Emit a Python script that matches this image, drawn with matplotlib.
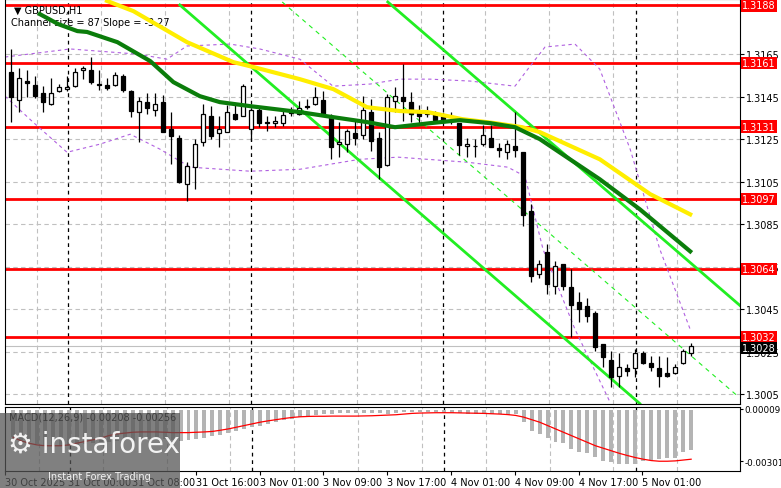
import numpy as np
import matplotlib
matplotlib.use("Agg")
from matplotlib import pyplot as plt

# candles, H1 GBPUSD
opens = [1.31566, 1.31434, 1.31524, 1.31505, 1.31467, 1.31415, 1.31477, 1.31486, 1.31500, 1.31576,
         1.31576, 1.31510, 1.31505, 1.31505, 1.31547, 1.31477, 1.31378, 1.31425, 1.31387, 1.31425,
         1.31298, 1.31255, 1.31039, 1.31119, 1.31236, 1.31359, 1.31279, 1.31284, 1.31368, 1.31359,
         1.31298, 1.31387, 1.31331, 1.31326, 1.31326, 1.31378, 1.31368, 1.31408, 1.31415, 1.31434,
         1.31359, 1.31227, 1.31227, 1.31279, 1.31269, 1.31378, 1.31255, 1.31128, 1.31430, 1.31448,
         1.31425, 1.31378, 1.31368, 1.31368, 1.31359, 1.31343, 1.31326, 1.31218, 1.31220, 1.31227,
         1.31255, 1.31208, 1.31189, 1.31218, 1.31189, 1.30912, 1.30615, 1.30718, 1.30558, 1.30662,
         1.30554, 1.30483, 1.30464, 1.30431, 1.30285, 1.30214, 1.30139, 1.30172, 1.30172, 1.30243,
         1.30196, 1.30172, 1.30153, 1.30153, 1.30196, 1.30243]
highs = [1.31675, 1.31585, 1.31576, 1.31547, 1.31500, 1.31538, 1.31510, 1.31547, 1.31585, 1.31594,
         1.31637, 1.31576, 1.31538, 1.31566, 1.31557, 1.31481, 1.31448, 1.31467, 1.31467, 1.31458,
         1.31378, 1.31269, 1.31142, 1.31251, 1.31415, 1.31406, 1.31359, 1.31411, 1.31420, 1.31510,
         1.31392, 1.31401, 1.31359, 1.31359, 1.31387, 1.31401, 1.31430, 1.31439, 1.31496, 1.31477,
         1.31368, 1.31331, 1.31298, 1.31335, 1.31453, 1.31439, 1.31284, 1.31463, 1.31496, 1.31604,
         1.31472, 1.31411, 1.31406, 1.31382, 1.31378, 1.31378, 1.31326, 1.31255, 1.31251, 1.31317,
         1.31317, 1.31232, 1.31246, 1.31378, 1.31189, 1.30945, 1.30680, 1.30756, 1.30676, 1.30662,
         1.30638, 1.30530, 1.30502, 1.30441, 1.30285, 1.30252, 1.30247, 1.30191, 1.30262, 1.30252,
         1.30229, 1.30229, 1.30224, 1.30191, 1.30266, 1.30294]
lows = [1.31331, 1.31378, 1.31448, 1.31444, 1.31378, 1.31411, 1.31472, 1.31477, 1.31496, 1.31533,
        1.31510, 1.31481, 1.31481, 1.31500, 1.31472, 1.31354, 1.31237, 1.31368, 1.31359, 1.31284,
        1.31133, 1.31043, 1.30959, 1.31015, 1.31218, 1.31251, 1.31213, 1.31284, 1.31340, 1.31359,
        1.31241, 1.31307, 1.31288, 1.31307, 1.31312, 1.31359, 1.31364, 1.31392, 1.31411, 1.31359,
        1.31156, 1.31166, 1.31189, 1.31222, 1.31251, 1.31194, 1.31062, 1.31124, 1.31378, 1.31335,
        1.31331, 1.31326, 1.31354, 1.31331, 1.31326, 1.31321, 1.31175, 1.31166, 1.31166, 1.31218,
        1.31213, 1.31166, 1.31156, 1.31166, 1.30841, 1.30577, 1.30600, 1.30521, 1.30521, 1.30540,
        1.30318, 1.30393, 1.30389, 1.30252, 1.30177, 1.30087, 1.30087, 1.30139, 1.30134, 1.30191,
        1.30158, 1.30087, 1.30130, 1.30144, 1.30191, 1.30229]
closes = [1.31448, 1.31538, 1.31514, 1.31453, 1.31425, 1.31467, 1.31496, 1.31496, 1.31566, 1.31585,
          1.31519, 1.31505, 1.31491, 1.31552, 1.31481, 1.31382, 1.31430, 1.31397, 1.31415, 1.31284,
          1.31265, 1.31048, 1.31124, 1.31227, 1.31368, 1.31265, 1.31298, 1.31378, 1.31345, 1.31500,
          1.31387, 1.31326, 1.31326, 1.31335, 1.31364, 1.31373, 1.31397, 1.31404, 1.31448, 1.31368,
          1.31213, 1.31237, 1.31288, 1.31255, 1.31387, 1.31241, 1.31119, 1.31448, 1.31453, 1.31430,
          1.31368, 1.31359, 1.31378, 1.31340, 1.31331, 1.31338, 1.31222, 1.31227, 1.31218, 1.31269,
          1.31213, 1.31199, 1.31227, 1.31199, 1.30893, 1.30605, 1.30662, 1.30568, 1.30652, 1.30558,
          1.30469, 1.30450, 1.30417, 1.30271, 1.30224, 1.30130, 1.30181, 1.30158, 1.30243, 1.30200,
          1.30177, 1.30139, 1.30139, 1.30181, 1.30252, 1.30280]

# moving averages (bar index, price)
ma_green_x = [3.6, 5.9, 8.3, 9.5, 13.3, 17.4, 20.3, 23.6, 26.1, 29.9, 36.1, 40.3, 44.5, 48, 52.4, 56.1, 59.9, 63, 66.1, 73.6, 78.6, 84.9]
ma_green_y = [1.31839, 1.31792, 1.31759, 1.31755, 1.31707, 1.31618, 1.31519, 1.31453, 1.31425, 1.31406, 1.31378,
              1.31354, 1.31331, 1.31307, 1.31326, 1.31340, 1.31326, 1.31307, 1.31251, 1.31062, 1.30921, 1.30723]
ma_yellow_x = [12, 15.3, 22, 27.8, 30.3, 36.1, 40.3, 44.5, 48.6, 52.1, 56.4, 60.5, 63.9, 66.1, 73.6, 79.9, 84.9]
ma_yellow_y = [1.31901, 1.31853, 1.31707, 1.31613, 1.31590, 1.31533, 1.31486, 1.31401, 1.31383, 1.31378, 1.31345,
               1.31326, 1.31307, 1.31284, 1.31156, 1.30992, 1.30897]

# envelope bands
band_up_x = [-0.75, 7.4, 15.75, 19.5, 22, 27.4, 31.1, 36.1, 40.25, 44.9, 48.6, 52.4, 57.4, 63, 64.6, 66.75, 70.5, 73.6, 77.4, 81.1, 84.9]
band_up_y = [1.31637, 1.31675, 1.31651, 1.31627, 1.31689, 1.31698, 1.31675, 1.31627, 1.31500, 1.31510, 1.31533,
             1.31533, 1.31524, 1.31500, 1.31580, 1.31684, 1.31698, 1.31580, 1.31203, 1.30733, 1.30356]
band_lo_x = [-0.75, 2.75, 7, 11.1, 14.9, 18.6, 22.4, 29.9, 36.1, 43.6, 48.4, 57.1, 62.1, 64.25, 66.5, 70.5, 74.9]
band_lo_y = [1.31453, 1.31331, 1.31189, 1.31227, 1.31274, 1.31204, 1.31119, 1.31100, 1.31109, 1.31156, 1.31166,
             1.31142, 1.31119, 1.31076, 1.30733, 1.30356, 1.30012]

# regression channel
chan_lo = ([21.1, 78.6], [1.31882, 1.30007])
chan_hi = ([47.1, 91.1], [1.31896, 1.30469])
chan_mid = ([33.9, 90.9], [1.31896, 1.30040])

levels = [1.3188, 1.3161, 1.3131, 1.3097, 1.3064, 1.3032]
last_price = 1.3028
price_ticks = [1.3165, 1.3145, 1.3125, 1.3105, 1.3085, 1.3065, 1.3045, 1.3025, 1.3005]

macd_hist = [-160, -175, -190, -200, -210, -212, -212, -210, -205, -200, -195, -190,
             -185, -180, -178, -180, -175, -170, -170, -172, -175, -180, -178, -172,
             -165, -155, -145, -135, -125, -110, -100, -90, -80, -70, -60, -50,
             -42, -35, -28, -24, -20, -18, -16, -15, -14, -14, -18, -22,
             -14, -10, -8, -8, -10, -12, -14, -16, -18, -20, -20, -22,
             -22, -24, -26, -24, -70, -124, -142, -165, -190, -195, -230, -248,
             -255, -277, -301, -307, -318, -318, -318, -301, -295, -290, -283, -283, -248, -236]
macd_signal = [-160, -180, -195, -205, -210, -210, -210, -205, -195, -185, -175, -165,
               -150, -140, -135, -130, -128, -128, -128, -130, -132, -132, -132, -130,
               -128, -125, -118, -110, -100, -90, -80, -70, -62, -55, -48, -42,
               -38, -36, -35, -35, -34, -34, -34, -34, -33, -32, -30, -28,
               -26, -22, -18, -16, -15, -14, -14, -14, -15, -16, -17, -18,
               -20, -22, -25, -30, -40, -55, -70, -90, -110, -130, -150, -170,
               -190, -210, -225, -240, -255, -268, -280, -290, -298, -302, -302, -300, -295, -290]

time_labels = ["30 Oct 2025", "31 Oct 00:00", "31 Oct 08:00", "31 Oct 16:00", "3 Nov 01:00", "3 Nov 09:00",
               "3 Nov 17:00", "4 Nov 01:00", "4 Nov 09:00", "4 Nov 17:00", "5 Nov 01:00"]
time_pos = [-1, 6.9, 14.9, 22.9, 30.9, 38.9, 46.9, 54.9, 62.9, 70.9, 78.9]
day_breaks = [7.1, 30, 54, 78.1]
grid_x = [3.25, 11.25, 19.25, 27.25, 35.25, 43.25, 51.25, 59.25, 67.25, 75.25, 83.25]

W, H = 781, 489
fs = 7
fig = plt.figure(figsize=(W / 100, H / 100), dpi=100)
ax = fig.add_axes([5 / W, 1 - 405 / H, 735 / W, 405 / H])
mx = fig.add_axes([5 / W, 1 - 472 / H, 735 / W, 64 / H])
xlim = (-0.75, 91.125)

idx = np.arange(len(opens))
o, h, l, c = map(np.array, (opens, highs, lows, closes))
ax.vlines(idx, l, h, color="black", lw=0.9, zorder=3)
up = c >= o
body = np.where(np.abs(c - o) < 0.00002, 0.00002, c - o)
ax.bar(idx, body, bottom=o, width=0.62, color=np.where(up, "white", "black"),
       edgecolor="black", lw=0.9, zorder=4)

for lv in levels:
    ax.axhline(lv, color="#ff0000", lw=2, zorder=2)
ax.axhline(last_price, color="#c0c0c0", lw=0.8, zorder=1)

ax.plot(band_up_x, band_up_y, color="#b060e0", lw=0.8, ls=(0, (3, 3)), zorder=2)
ax.plot(band_lo_x, band_lo_y, color="#b060e0", lw=0.8, ls=(0, (3, 3)), zorder=2)
ax.plot(*chan_lo, color="#22ee22", lw=2, zorder=2)
ax.plot(*chan_hi, color="#22ee22", lw=2, zorder=2)
ax.plot(*chan_mid, color="#22ee22", lw=0.8, ls=(0, (4, 4)), zorder=2)
ax.plot(ma_yellow_x, ma_yellow_y, color="#ffee00", lw=3, zorder=5)
ax.plot(ma_green_x, ma_green_y, color="#0b7d0b", lw=3, zorder=5)

for a in (ax, mx):
    a.set_xlim(*xlim)
    for gx in grid_x:
        a.axvline(gx, color="#c0c0c0", lw=0.8, ls=(0, (4, 3)), zorder=0)
    for d in day_breaks:
        a.axvline(d, color="black", lw=0.9, ls=(0, (3, 3)), zorder=1)
    for s in a.spines.values():
        s.set_color("black")

ax.set_ylim(1.30005, 1.31910)
for t in price_ticks:
    ax.axhline(t, color="#c0c0c0", lw=0.8, ls=(0, (4, 3)), zorder=0)
ax.set_xticks([])
ax.yaxis.tick_right()
ax.set_yticks(price_ticks)
ax.set_yticklabels([f"{t:.4f}" for t in price_ticks], fontsize=fs)
ax.tick_params(axis="y", length=3, pad=1)

for lv in levels:
    ax.text(1.003, lv, f"{lv:.4f}", transform=ax.get_yaxis_transform(), color="white", fontsize=fs,
            va="center", ha="left", bbox=dict(boxstyle="square,pad=0.12", fc="#ff0000", ec="none"))
ax.text(1.003, last_price - 0.00012, f"{last_price:.4f}", transform=ax.get_yaxis_transform(), color="white",
        fontsize=fs, va="center", ha="left", bbox=dict(boxstyle="square,pad=0.12", fc="black", ec="none"))

ax.text(0.012, 0.985, "\u25bc GBPUSD,H1", transform=ax.transAxes, fontsize=fs, va="top")
ax.text(0.008, 0.955, "Channel size = 87 Slope = -3.27", transform=ax.transAxes, fontsize=fs, va="top")

mx.bar(idx, np.array(macd_hist) * 1e-5, width=0.5, color="#b4b4b4", zorder=2)
mx.plot(idx, np.array(macd_signal) * 1e-5, color="#ff0000", lw=0.9, zorder=3)
mx.set_ylim(-0.00360, 0.00020)
mx.yaxis.tick_right()
mx.set_yticks([0.00009, -0.00301])
mx.set_yticklabels(["0.00009", "-0.00301"], fontsize=6.3)
mx.tick_params(axis="y", length=2, pad=1)
mx.text(0.006, 0.93, "MACD(12,26,9) -0.00208 -0.00256", transform=mx.transAxes, fontsize=fs, va="top")
mx.set_xticks(time_pos)
mx.set_xticklabels(time_labels, fontsize=fs, ha="left")
mx.tick_params(axis="x", length=3, pad=1)

# watermark logo
fig.patches.append(plt.Rectangle((0, 0), 180 / W, 75 / H, transform=fig.transFigure,
                                 fc="#555555", alpha=0.75, zorder=10))
fig.text(8 / W, 36 / H, "\u2699 instaforex", color="white", fontsize=20, zorder=11, alpha=0.9)
fig.text(48 / W, 9 / H, "Instant Forex Trading", color="white", fontsize=fs, zorder=11, alpha=0.9)

fig.savefig("out.png", dpi=100)
